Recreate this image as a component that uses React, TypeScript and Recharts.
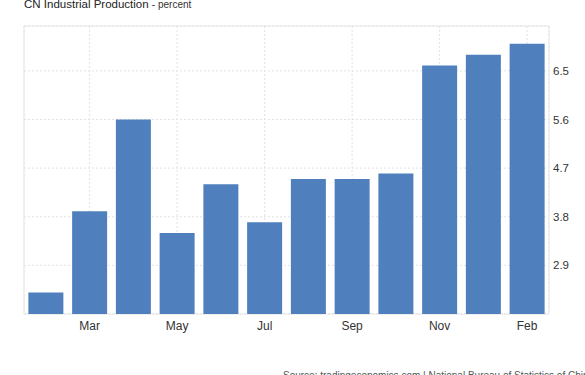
import React from "react";
import { BarChart, Bar, XAxis, YAxis, CartesianGrid, ReferenceArea } from "recharts";

const months = ["2023-02", "2023-03", "2023-04", "2023-05", "2023-06", "2023-07", "2023-08", "2023-09", "2023-10", "2023-11", "2023-12", "2024-02"];
const monthLabels = ["Feb", "Mar", "Apr", "May", "Jun", "Jul", "Aug", "Sep", "Oct", "Nov", "Dec", "Feb"];
const values = [2.4, 3.9, 5.6, 3.5, 4.4, 3.7, 4.5, 4.5, 4.6, 6.6, 6.8, 7.0];
const xTicks = ["2023-03", "2023-05", "2023-07", "2023-09", "2023-11", "2024-02"];
const yTicks = [2.9, 3.8, 4.7, 5.6, 6.5];

const data = months.map((m, i) => ({ month: m, value: values[i] }));
const labelOf = (m: string) => monthLabels[months.indexOf(m)] ?? m;

const FONT = "'Liberation Sans', Arial, sans-serif";

export default function App() {
  return (
    <div style={{ position: "absolute", left: 0, top: 0, width: 585, height: 375, overflow: "hidden", background: "#fff", fontFamily: FONT }}>
      <div style={{ position: "absolute", left: 24, top: -1, fontSize: 11.5, lineHeight: "11.5px", color: "#222", whiteSpace: "nowrap" }}>
        CN Industrial Production <span style={{ fontSize: 10, color: "#333" }}>- percent</span>
      </div>
      <BarChart
        width={585}
        height={375}
        data={data}
        margin={{ top: 26, right: 0, left: 24, bottom: 31 }}
        barCategoryGap="10%"
      >
        <CartesianGrid stroke="#e2e2e2" strokeDasharray="2 2" />
        <ReferenceArea y1={2} y2={7.33} fill="none" stroke="#e6e6e6" strokeWidth={1} ifOverflow="visible" />
        <XAxis
          dataKey="month"
          ticks={xTicks}
          tickFormatter={labelOf}
          axisLine={false}
          tickLine={false}
          tickSize={5}
          tickMargin={2}
          height={30}
          interval={0}
          tick={{ fill: "#333", fontSize: 12, fontFamily: FONT }}
        />
        <YAxis
          orientation="right"
          domain={[2, 7.33]}
          ticks={yTicks}
          allowDataOverflow
          axisLine={false}
          tickLine={false}
          tickSize={2}
          tickMargin={2}
          width={36}
          tickFormatter={(v: number) => v.toFixed(1)}
          tick={{ fill: "#333", fontSize: 11.5, fontFamily: FONT }}
        />
        <Bar dataKey="value" fill="#4f80bd" isAnimationActive={false} />
      </BarChart>
      <div style={{ position: "absolute", left: 283, top: 370.5, fontSize: 10, lineHeight: "10px", color: "#555", whiteSpace: "nowrap" }}>
        Source: tradingeconomics.com | National Bureau of Statistics of China
      </div>
    </div>
  );
}
